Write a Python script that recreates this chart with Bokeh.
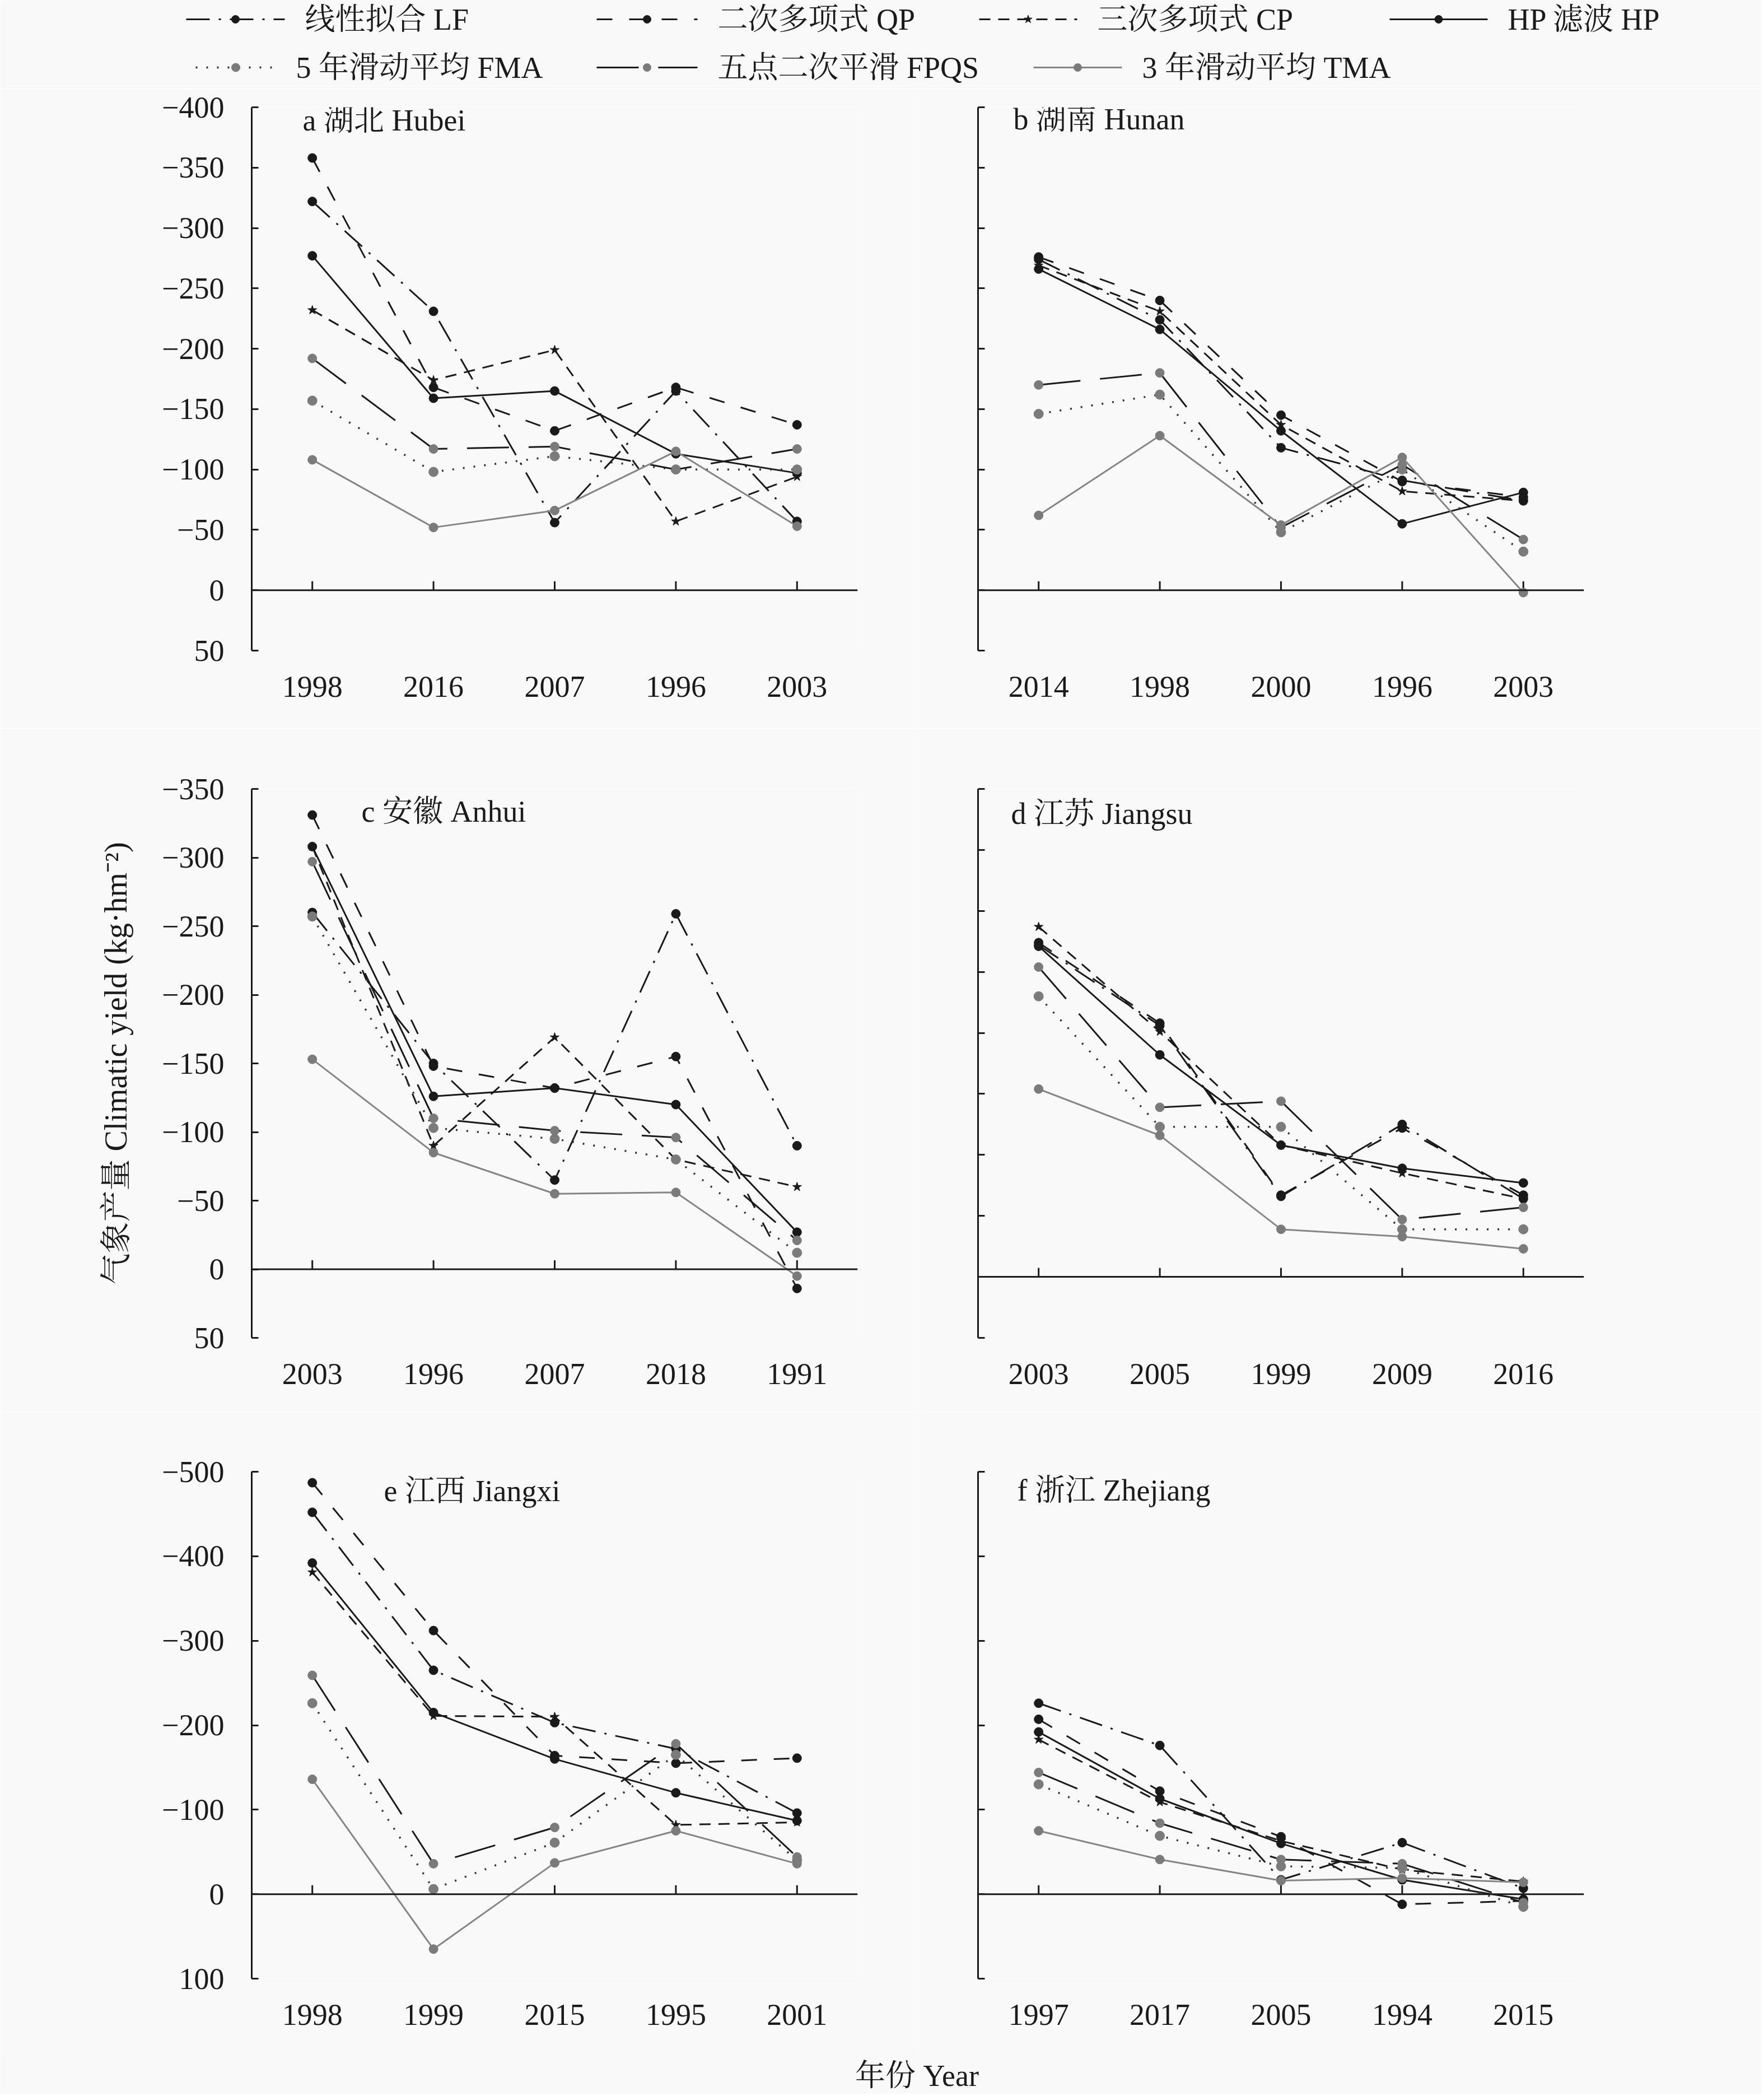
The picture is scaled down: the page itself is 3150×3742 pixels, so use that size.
from bokeh.plotting import figure
from bokeh.layouts import column, row
from bokeh.models import Range1d, FactorRange, Span, Label, CustomJSTickFormatter, FixedTicker
from bokeh.embed import file_html
from bokeh.resources import INLINE

# ---------------- data (climatic yield, kg/hm2) ----------------
hubei_years = ["1998", "2016", "2007", "1996", "2003"]
hubei_LF = [-322, -231, -56, -165, -57]
hubei_QP = [-358, -168, -132, -168, -137]
hubei_CP = [-232, -174, -199, -57, -94]
hubei_HP = [-277, -159, -165, -113, -97]
hubei_FMA = [-157, -98, -111, -100, -100]
hubei_FPQS = [-192, -117, -119, -100, -117]
hubei_TMA = [-108, -52, -66, -115, -53]

hunan_years = ["2014", "1998", "2000", "1996", "2003"]
hunan_LF = [-274, -224, -118, -91, -74]
hunan_QP = [-276, -240, -145, -90, -77]
hunan_CP = [-269, -231, -137, -82, -74]
hunan_HP = [-266, -216, -132, -55, -81]
hunan_FMA = [-146, -162, -48, -100, -32]
hunan_FPQS = [-170, -180, -52, -104, -42]
hunan_TMA = [-62, -128, -54, -110, 2]

anhui_years = ["2003", "1996", "2007", "2018", "1991"]
anhui_LF = [-260, -150, -65, -259, -90]
anhui_QP = [-331, -148, -132, -155, 14]
anhui_CP = [-308, -90, -169, -80, -60]
anhui_HP = [-308, -126, -132, -120, -27]
anhui_FMA = [-257, -103, -95, -80, -12]
anhui_FPQS = [-297, -110, -101, -96, -21]
anhui_TMA = [-153, -85, -55, -56, 5]

jiangsu_years = ["2003", "2005", "1999", "2009", "2016"]
jiangsu_LF = [-272, -206, -66, -125, -64]
jiangsu_QP = [-274, -208, -67, -122, -67]
jiangsu_CP = [-287, -201, -108, -85, -64]
jiangsu_HP = [-271, -182, -108, -89, -77]
jiangsu_FMA = [-230, -123, -123, -39, -39]
jiangsu_FPQS = [-254, -139, -144, -47, -57]
jiangsu_TMA = [-154, -116, -39, -33, -23]

jiangxi_years = ["1998", "1999", "2015", "1995", "2001"]
jiangxi_LF = [-452, -265, -203, -172, -96]
jiangxi_QP = [-487, -312, -164, -155, -161]
jiangxi_CP = [-381, -211, -210, -82, -85]
jiangxi_HP = [-392, -215, -160, -120, -87]
jiangxi_FMA = [-226, -6, -61, -165, -40]
jiangxi_FPQS = [-259, -36, -79, -178, -44]
jiangxi_TMA = [-136, 65, -37, -75, -36]

zhejiang_years = ["1997", "2017", "2005", "1994", "2015"]
zhejiang_LF = [-226, -176, -17, -61, -7]
zhejiang_QP = [-207, -122, -68, 12, 8]
zhejiang_CP = [-183, -109, -63, -29, -15]
zhejiang_HP = [-192, -113, -60, -17, 6]
zhejiang_FMA = [-130, -69, -33, -31, 15]
zhejiang_FPQS = [-144, -84, -41, -36, 10]
zhejiang_TMA = [-75, -41, -16, -19, -14]

SERIES = ["LF", "QP", "CP", "HP", "FMA", "FPQS", "TMA"]
LEGEND_TEXT = ["线性拟合 LF", "二次多项式 QP", "三次多项式 CP", "HP 滤波 HP",
               "5 年滑动平均 FMA", "五点二次平滑 FPQS", "3 年滑动平均 TMA"]
PANEL_TITLES = ["a 湖北 Hubei", "b 湖南 Hunan", "c 安徽 Anhui",
                "d 江苏 Jiangsu", "e 江西 Jiangxi", "f  浙江 Zhejiang"]
Y_LABEL = "气象产量 Climatic yield (kg·hm⁻²)"
X_LABEL = "年份 Year"

# ---------------- styles ----------------
FONT = "'Liberation Serif', 'Noto Serif CJK SC', 'Noto Sans CJK SC', serif"
BG = "#f9f9f9"
DARK = "#1a1a1a"
GRAY = "#7b7b7b"
FS = "54px"

STYLE = {
    "LF":   dict(lc=DARK, dash="42 16 4 16", lw=3, marker="circle", mc=DARK, ms=16),
    "QP":   dict(lc=DARK, dash="28 30", lw=3, marker="circle", mc=DARK, ms=16),
    "CP":   dict(lc=DARK, dash="20 14", lw=3, marker="star", mc=DARK, ms=17),
    "HP":   dict(lc=DARK, dash="solid", lw=3, marker="circle", mc=DARK, ms=16),
    "FMA":  dict(lc="#333333", dash="3 16", lw=3.5, marker="circle", mc=GRAY, ms=17),
    "FPQS": dict(lc=DARK, dash="75 35", lw=3, marker="circle", mc=GRAY, ms=16),
    "TMA":  dict(lc="#858585", dash="solid", lw=3, marker="circle", mc=GRAY, ms=16),
}

minus_fmt = CustomJSTickFormatter(code="return tick < 0 ? '\u2212' + String(-tick) : String(tick);")
blank_fmt = CustomJSTickFormatter(code="return '';")


def make_panel(years, series, y_top, y_bottom, step, show_labels, title, tdx, tdy,
               width, height, bl, br, bt, bb, ylabel=None):
    frame_w = width - bl - br
    frame_h = height - bt - bb
    ppu_x = frame_w / len(years)
    ppu_y = frame_h / (y_bottom - y_top)
    p = figure(x_range=FactorRange(factors=years, range_padding=0),
               y_range=Range1d(start=y_bottom, end=y_top),
               width=width, height=height,
               min_border_left=bl, min_border_right=br,
               min_border_top=bt, min_border_bottom=bb,
               output_backend="svg", toolbar_location=None,
               background_fill_color=BG, border_fill_color=BG,
               outline_line_color=None)
    p.grid.visible = False

    # x axis: labels only at bottom
    xa = p.xaxis[0]
    xa.axis_line_color = None
    xa.major_tick_line_color = None
    xa.minor_tick_line_color = None
    xa.major_label_standoff = 40
    xa.major_label_text_font = FONT
    xa.major_label_text_font_size = FS
    xa.major_label_text_color = DARK

    ya = p.yaxis[0]
    ya.ticker = FixedTicker(ticks=list(range(y_top, y_bottom + 1, step)))
    ya.axis_line_width = 3
    ya.axis_line_color = DARK
    ya.major_tick_in = 12
    ya.major_tick_out = 0
    ya.major_tick_line_width = 3
    ya.major_tick_line_color = DARK
    ya.minor_tick_line_color = None
    if show_labels:
        ya.formatter = minus_fmt
        ya.major_label_standoff = 49
        ya.major_label_text_font = FONT
        ya.major_label_text_font_size = FS
        ya.major_label_text_color = DARK
    else:
        ya.formatter = blank_fmt
        ya.major_label_standoff = 0
        ya.major_label_text_font_size = "1px"
    if ylabel:
        ya.axis_label = ylabel
        ya.axis_label_text_font = FONT
        ya.axis_label_text_font_size = "56px"
        ya.axis_label_text_font_style = "normal"
        ya.axis_label_text_color = DARK
        ya.axis_label_standoff = 48

    # zero line with upward ticks at each category
    p.add_layout(Span(location=0, dimension="width", line_color=DARK, line_width=3))
    n = len(years)
    p.segment(x0=years, y0=[0] * n, x1=years, y1=[-16.0 / ppu_y] * n,
              line_color=DARK, line_width=3)

    for key in SERIES:
        st = STYLE[key]
        vals = series[key]
        p.line(years, vals, line_color=st["lc"], line_width=st["lw"], line_dash=st["dash"])
        p.scatter(years, vals, marker=st["marker"], size=st["ms"],
                  fill_color=st["mc"], line_color=st["mc"], line_width=1)

    p.add_layout(Label(x=tdx / ppu_x, y=y_top + tdy / ppu_y, text=title,
                       text_font=FONT, text_font_size=FS, text_color=DARK,
                       text_baseline="middle", text_align="left"))
    return p


def series_of(prefix):
    g = globals()
    return {k: g[prefix + "_" + k] for k in SERIES}


LW, RW = 1640, 1506
L_B = (449, 109)
R_B = (106, 318)

pa = make_panel(hubei_years, series_of("hubei"), -400, 50, 50, True, PANEL_TITLES[0], 91, 23,
                LW, 1142, L_B[0], L_B[1], 33, 139)
pb = make_panel(hunan_years, series_of("hunan"), -400, 50, 50, False, PANEL_TITLES[1], 63, 21,
                RW, 1142, R_B[0], R_B[1], 33, 139)
pc = make_panel(anhui_years, series_of("anhui"), -350, 50, 50, True, PANEL_TITLES[2], 196, 40,
                LW, 1220, L_B[0], L_B[1], 108, 132, ylabel=Y_LABEL)
pd = make_panel(jiangsu_years, series_of("jiangsu"), -400, 50, 50, False, PANEL_TITLES[3], 59, 44,
                RW, 1220, R_B[0], R_B[1], 108, 132)
pe = make_panel(jiangxi_years, series_of("jiangxi"), -500, 100, 100, True, PANEL_TITLES[4], 236, 34,
                LW, 1140, L_B[0], L_B[1], 107, 128)
pf = make_panel(zhejiang_years, series_of("zhejiang"), -500, 100, 100, False, PANEL_TITLES[5], 70, 33,
                RW, 1140, R_B[0], R_B[1], 107, 128)

# ---------------- legend strip ----------------
LEG_W, LEG_H = LW + RW, 158
LEGEND_X0 = [332, 1065, 1748, 2481, 349, 1065, 1845]
LEGEND_TX = [544, 1281, 1959, 2692, 528, 1281, 2039]
LEGEND_ROW = [0, 0, 0, 0, 1, 1, 1]
ROW_Y = [34, 120]

lg = figure(width=LEG_W, height=LEG_H, x_range=Range1d(0, LEG_W), y_range=Range1d(LEG_H, 0),
            output_backend="svg", toolbar_location=None,
            min_border_left=0, min_border_right=0, min_border_top=0, min_border_bottom=0,
            background_fill_color=BG, border_fill_color=BG, outline_line_color=None)
lg.axis.visible = False
lg.grid.visible = False
for key, txt, x0, tx, r in zip(SERIES, LEGEND_TEXT, LEGEND_X0, LEGEND_TX, LEGEND_ROW):
    st = STYLE[key]
    y = ROW_Y[r]
    x1 = tx - 36
    lg.line([x0, x1], [y, y], line_color=st["lc"], line_width=st["lw"], line_dash=st["dash"])
    lg.scatter([(x0 + x1) / 2], [y], marker=st["marker"], size=st["ms"] - 2,
               fill_color=st["mc"], line_color=st["mc"])
    lg.add_layout(Label(x=tx, y=y, text=txt, text_font=FONT, text_font_size=FS,
                        text_color=DARK, text_baseline="middle", text_align="left"))

# ---------------- x axis title strip ----------------
XL_H = 78
xl = figure(width=LEG_W, height=XL_H, x_range=Range1d(0, LEG_W), y_range=Range1d(XL_H, 0),
            output_backend="svg", toolbar_location=None,
            min_border_left=0, min_border_right=0, min_border_top=0, min_border_bottom=0,
            background_fill_color=BG, border_fill_color=BG, outline_line_color=None)
xl.axis.visible = False
xl.grid.visible = False
xl.add_layout(Label(x=1637, y=45, text=X_LABEL, text_font=FONT, text_font_size=FS,
                    text_color=DARK, text_baseline="middle", text_align="center"))

layout = column(lg, row(pa, pb), row(pc, pd), row(pe, pf), xl)

with open("out.html", "w", encoding="utf-8") as f:
    f.write(file_html(layout, INLINE, title="Climatic yield"))
